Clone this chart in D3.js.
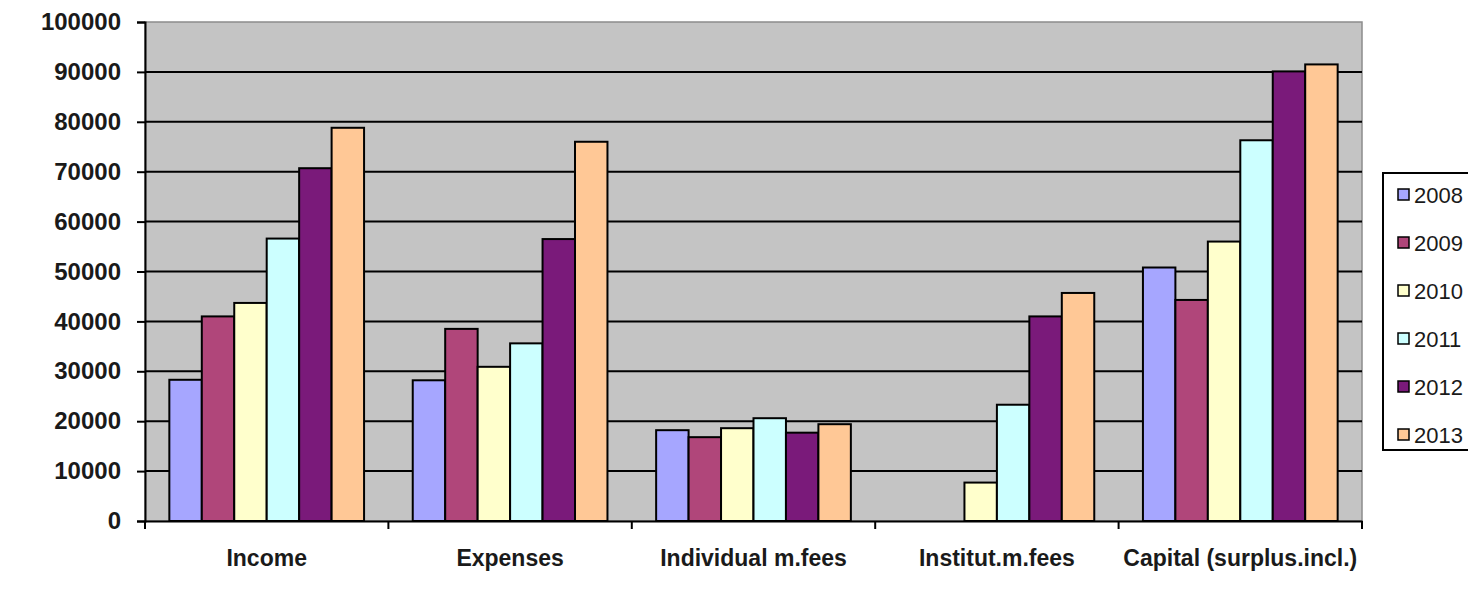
<!DOCTYPE html>
<html>
<head>
<meta charset="utf-8">
<script src="https://cdn.jsdelivr.net/npm/d3@7"></script>
<style>
  body { margin: 0; background: #fff; }
  svg { display: block; font-family: "Liberation Sans", Arial, sans-serif; }
</style>
</head>
<body>
<svg id="chart" width="1468" height="596"></svg>
<script>
// chart data
var categories = ["Income", "Expenses", "Individual m.fees", "Institut.m.fees", "Capital (surplus.incl.)"];
var years = ["2008", "2009", "2010", "2011", "2012", "2013"];
var v2008 = [28300, 28200, 18200, 0, 50800];
var v2009 = [41000, 38500, 16800, 0, 44300];
var v2010 = [43700, 30900, 18600, 7700, 56000];
var v2011 = [56600, 35600, 20600, 23300, 76300];
var v2012 = [70700, 56500, 17700, 41000, 90100];
var v2013 = [78800, 76000, 19400, 45700, 91500];
var yTicks = [0, 10000, 20000, 30000, 40000, 50000, 60000, 70000, 80000, 90000, 100000];

var series = [v2008, v2009, v2010, v2011, v2012, v2013];
var colors = ["#a6a6ff", "#b0467a", "#ffffcc", "#ccffff", "#7a1a7a", "#ffc896"];

var svg = d3.select("#chart");
var plotLeft = 145, plotRight = 1362, plotTop = 22, plotBottom = 521;

var x0 = d3.scaleBand().domain(categories).range([plotLeft, plotRight]).paddingInner(0).paddingOuter(0);
// excel style gap width 150%
var x1 = d3.scaleBand().domain(years).range([0, x0.bandwidth()]).paddingInner(0)
    .paddingOuter(0.75);
var y = d3.scaleLinear().domain([0, 100000]).range([plotBottom, plotTop]);

// plot area
svg.append("rect")
    .attr("x", plotLeft).attr("y", plotTop)
    .attr("width", plotRight - plotLeft).attr("height", plotBottom - plotTop)
    .attr("fill", "#c4c4c4")
    .attr("stroke", "#8c8c8c").attr("stroke-width", 1.5);

// gridlines
svg.append("g").selectAll("line")
    .data(yTicks.filter(function (d) { return d > 0 && d < 100000; }))
    .enter().append("line")
    .attr("x1", plotLeft).attr("x2", plotRight)
    .attr("y1", function (d) { return y(d); })
    .attr("y2", function (d) { return y(d); })
    .attr("stroke", "#000").attr("stroke-width", 2);

// bars
var groups = svg.append("g").selectAll("g")
    .data(categories)
    .enter().append("g")
    .attr("transform", function (d) { return "translate(" + x0(d) + ",0)"; });

groups.selectAll("rect")
    .data(function (d, i) {
        return years.map(function (yr, j) { return { year: yr, value: series[j][i], idx: j }; })
            .filter(function (b) { return b.value > 0; });
    })
    .enter().append("rect")
    .attr("x", function (d) { return x1(d.year); })
    .attr("y", function (d) { return y(d.value); })
    .attr("width", x1.bandwidth())
    .attr("height", function (d) { return y(0) - y(d.value); })
    .attr("fill", function (d) { return colors[d.idx]; })
    .attr("stroke", "#000").attr("stroke-width", 2);

// y axis
var yAxis = svg.append("g")
    .attr("transform", "translate(" + plotLeft + ",0)")
    .call(d3.axisLeft(y).tickValues(yTicks).tickSize(8).tickPadding(16).tickFormat(d3.format("d")));
yAxis.select(".domain").attr("stroke", "#000").attr("stroke-width", 2);
yAxis.selectAll(".tick line").attr("stroke", "#000").attr("stroke-width", 2);
yAxis.selectAll("text")
    .attr("fill", "#1a1a1a")
    .style("font-size", "24px").style("font-weight", "bold");

// x axis
var xAxis = svg.append("g")
    .attr("transform", "translate(0," + plotBottom + ")")
    .call(d3.axisBottom(x0).tickSize(0).tickPadding(29));
xAxis.select(".domain").attr("stroke", "#000").attr("stroke-width", 2);
xAxis.selectAll("text")
    .attr("fill", "#1a1a1a")
    .style("font-size", "23px").style("font-weight", "bold");

// tick marks between categories
svg.append("g").selectAll("line")
    .data(d3.range(categories.length + 1))
    .enter().append("line")
    .attr("x1", function (i) { return plotLeft + i * x0.bandwidth(); })
    .attr("x2", function (i) { return plotLeft + i * x0.bandwidth(); })
    .attr("y1", plotBottom).attr("y2", plotBottom + 8)
    .attr("stroke", "#000").attr("stroke-width", 2);

// legend
var legend = svg.append("g");
legend.append("rect")
    .attr("x", 1383).attr("y", 173)
    .attr("width", 120).attr("height", 277)
    .attr("fill", "#fff").attr("stroke", "#000").attr("stroke-width", 2);

var items = legend.selectAll("g.item")
    .data(years)
    .enter().append("g")
    .attr("class", "item")
    .attr("transform", function (d, i) { return "translate(1398," + (195 + i * 48) + ")"; });

items.append("rect")
    .attr("x", 0).attr("y", -6)
    .attr("width", 11).attr("height", 11)
    .attr("fill", function (d, i) { return colors[i]; })
    .attr("stroke", "#000").attr("stroke-width", 1.5);

items.append("text")
    .attr("x", 16).attr("y", 0)
    .attr("dy", "0.36em")
    .attr("fill", "#1a1a1a")
    .style("font-size", "22px")
    .text(function (d) { return d; });
</script>
</body>
</html>
